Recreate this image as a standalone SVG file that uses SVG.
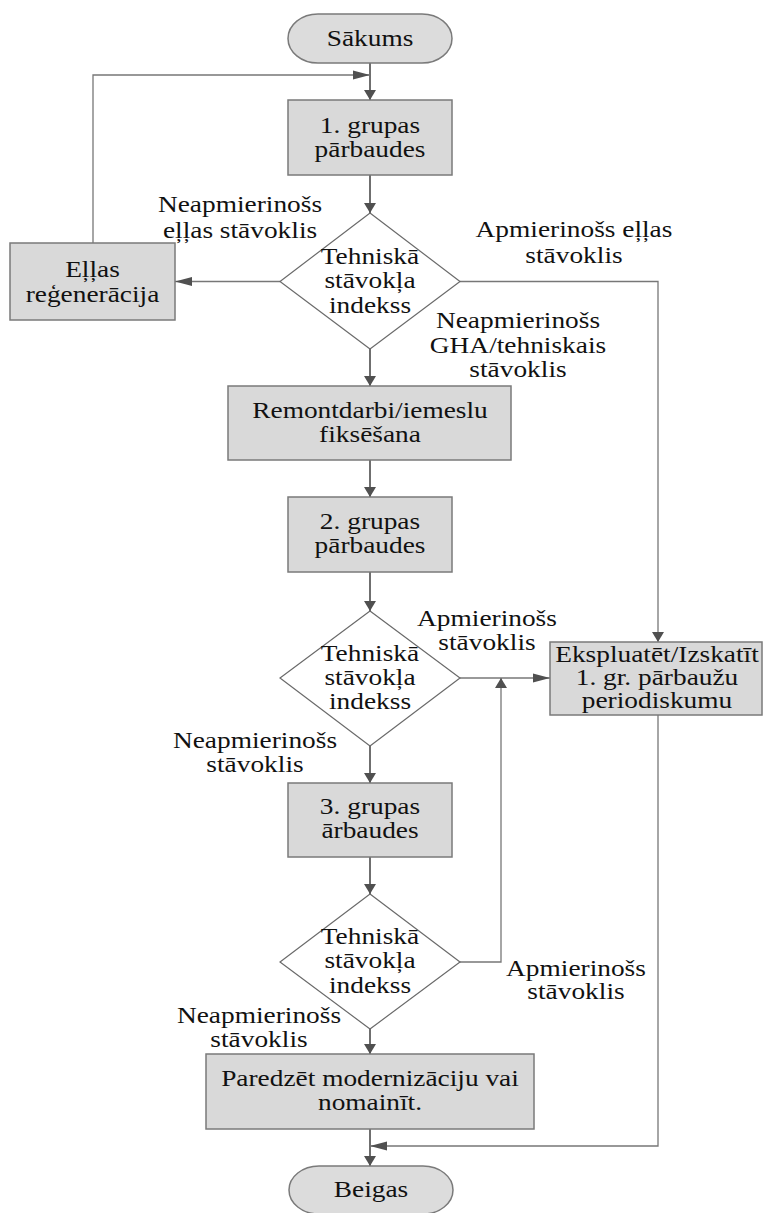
<svg xmlns="http://www.w3.org/2000/svg" width="763" height="1213" viewBox="0 0 763 1213">
<style>
.bg{fill:#ffffff}
.box{fill:#d9d9d9;stroke:#7a7a7a;stroke-width:1.5}
.term{fill:#dcdcdc;stroke:#7a7a7a;stroke-width:1.5}
.dia{fill:#ffffff;stroke:#6a6a6a;stroke-width:1.2}
.t{font-family:"Liberation Serif","Times New Roman",serif;font-size:23px;fill:#111;text-anchor:middle}
.main{fill:none;stroke:#6f6f6f;stroke-width:2}
.thin{fill:none;stroke:#777;stroke-width:1.3}
</style>
<defs>
<marker id="aV" markerUnits="userSpaceOnUse" markerWidth="10" markerHeight="12" refX="10" refY="6" orient="auto" viewBox="0 0 10 12">
<path d="M0,0 L10,6 L0,12 z" fill="#505050"/>
</marker>
<marker id="aH" markerUnits="userSpaceOnUse" markerWidth="17" markerHeight="10" refX="17" refY="5" orient="auto" viewBox="0 0 17 10">
<path d="M0,0.5 L17,5 L0,9.5 z" fill="#505050"/>
</marker>
</defs>
<rect class="bg" x="0" y="0" width="763" height="1213"/>
<g id="connectors">
<path class="main" d="M370,63 L370,100" marker-end="url(#aV)"/>
<path class="thin" d="M93,243 L93,75 L370,75" marker-end="url(#aH)"/>
<path class="main" d="M370,175 L370,213" marker-end="url(#aV)"/>
<path class="thin" d="M280,281.5 L175,281.5" marker-end="url(#aH)"/>
<path class="thin" d="M460,281.5 L658,281.5 L658,642" marker-end="url(#aV)"/>
<path class="main" d="M370,349 L370,386" marker-end="url(#aV)"/>
<path class="main" d="M370,460 L370,497" marker-end="url(#aV)"/>
<path class="main" d="M370,572 L370,611" marker-end="url(#aV)"/>
<path class="thin" d="M460,678 L550,678" marker-end="url(#aH)"/>
<path class="main" d="M370,746 L370,783" marker-end="url(#aV)"/>
<path class="main" d="M370,857 L370,894" marker-end="url(#aV)"/>
<path class="thin" d="M460,962 L501,962 L501,678" marker-end="url(#aV)"/>
<path class="main" d="M370,1029 L370,1054" marker-end="url(#aV)"/>
<path class="main" d="M370,1129 L370,1166" marker-end="url(#aV)"/>
<path class="thin" d="M658,715 L658,1146 L370,1146" marker-end="url(#aH)"/>
</g>
<g id="start">
<rect class="term" x="288" y="14" width="164" height="49" rx="30" ry="24.5"/>
<text class="t" transform="translate(370 0) scale(1.19 1)"><tspan x="0" y="46">Sākums</tspan></text>
</g>
<g id="group1">
<rect class="box" x="288" y="100" width="164" height="75"/>
<text class="t" transform="translate(370 0) scale(1.19 1)"><tspan x="0" y="133">1. grupas</tspan><tspan x="0" y="157">pārbaudes</tspan></text>
</g>
<g id="decision1">
<polygon class="dia" points="370,213 460,281.5 370,349 280,281.5"/>
<text class="t" transform="translate(370 0) scale(1.19 1)"><tspan x="0" y="264">Tehniskā</tspan><tspan x="0" y="288.5">stāvokļa</tspan><tspan x="0" y="313">indekss</tspan></text>
</g>
<g id="oilregen">
<rect class="box" x="10" y="243" width="165" height="77"/>
<text class="t" transform="translate(92.5 0) scale(1.19 1)"><tspan x="0" y="277">Eļļas</tspan><tspan x="0" y="302">reģenerācija</tspan></text>
</g>
<g id="repair">
<rect class="box" x="228" y="386" width="283" height="74"/>
<text class="t" transform="translate(370 0) scale(1.19 1)"><tspan x="0" y="418">Remontdarbi/iemeslu</tspan><tspan x="0" y="442.5">fiksēšana</tspan></text>
</g>
<g id="group2">
<rect class="box" x="288" y="497" width="164" height="75"/>
<text class="t" transform="translate(370 0) scale(1.19 1)"><tspan x="0" y="529.5">2. grupas</tspan><tspan x="0" y="553.5">pārbaudes</tspan></text>
</g>
<g id="decision2">
<polygon class="dia" points="370,611 460,678 370,746 280,678"/>
<text class="t" transform="translate(370 0) scale(1.19 1)"><tspan x="0" y="661">Tehniskā</tspan><tspan x="0" y="685">stāvokļa</tspan><tspan x="0" y="709">indekss</tspan></text>
</g>
<g id="operate">
<rect class="box" x="550" y="642" width="212" height="73"/>
<text class="t" transform="translate(657 0) scale(1.19 1)"><tspan x="0" y="662">Ekspluatēt/Izskatīt</tspan><tspan x="0" y="685">1. gr. pārbaužu</tspan><tspan x="0" y="708">periodiskumu</tspan></text>
</g>
<g id="group3">
<rect class="box" x="288" y="783" width="164" height="74"/>
<text class="t" transform="translate(370 0) scale(1.19 1)"><tspan x="0" y="814">3. grupas</tspan><tspan x="0" y="838.5">ārbaudes</tspan></text>
</g>
<g id="decision3">
<polygon class="dia" points="370,894 460,962 370,1029 280,962"/>
<text class="t" transform="translate(370 0) scale(1.19 1)"><tspan x="0" y="944.5">Tehniskā</tspan><tspan x="0" y="968.5">stāvokļa</tspan><tspan x="0" y="993">indekss</tspan></text>
</g>
<g id="replace">
<rect class="box" x="206" y="1054" width="328" height="75"/>
<text class="t" transform="translate(370 0) scale(1.19 1)"><tspan x="0" y="1086.5">Paredzēt modernizāciju vai</tspan><tspan x="0" y="1110.5">nomainīt.</tspan></text>
</g>
<g id="end">
<rect class="term" x="289" y="1166" width="164" height="48" rx="30" ry="24"/>
<text class="t" transform="translate(371 0) scale(1.19 1)"><tspan x="0" y="1197">Beigas</tspan></text>
</g>
<g id="labels">
<text class="t" transform="translate(240 0) scale(1.19 1)"><tspan x="0" y="212">Neapmierinošs</tspan><tspan x="0" y="238">eļļas stāvoklis</tspan></text>
<text class="t" transform="translate(574 0) scale(1.19 1)"><tspan x="0" y="237">Apmierinošs eļļas</tspan><tspan x="0" y="263">stāvoklis</tspan></text>
<text class="t" transform="translate(518 0) scale(1.19 1)"><tspan x="0" y="328">Neapmierinošs</tspan><tspan x="0" y="353">GHA/tehniskais</tspan><tspan x="0" y="377">stāvoklis</tspan></text>
<text class="t" transform="translate(487 0) scale(1.19 1)"><tspan x="0" y="626">Apmierinošs</tspan><tspan x="0" y="650">stāvoklis</tspan></text>
<text class="t" transform="translate(255 0) scale(1.19 1)"><tspan x="0" y="748">Neapmierinošs</tspan><tspan x="0" y="772">stāvoklis</tspan></text>
<text class="t" transform="translate(576 0) scale(1.19 1)"><tspan x="0" y="976">Apmierinošs</tspan><tspan x="0" y="999">stāvoklis</tspan></text>
<text class="t" transform="translate(259 0) scale(1.19 1)"><tspan x="0" y="1023">Neapmierinošs</tspan><tspan x="0" y="1047">stāvoklis</tspan></text>
</g>
</svg>
